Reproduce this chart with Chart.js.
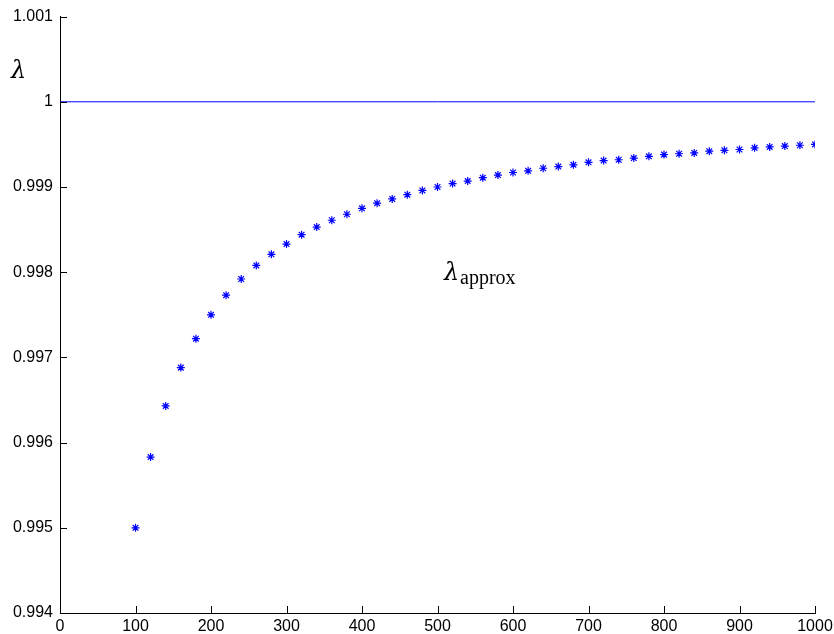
<!DOCTYPE html>
<html>
<head>
<meta charset="utf-8">
<script src="https://cdn.jsdelivr.net/npm/chart.js@4/dist/chart.umd.min.js"></script>
<style>
  body { margin: 0; background: #fff; }
  canvas { display: block; }
</style>
</head>
<body>
<canvas id="lambdaChart" width="834" height="634"></canvas>
<script>
// Valores
const sizes = [100, 120, 140, 160, 180, 200, 220, 240, 260, 280, 300, 320, 340, 360, 380, 400,
    420, 440, 460, 480, 500, 520, 540, 560, 580, 600, 620, 640, 660, 680, 700, 720, 740, 760,
    780, 800, 820, 840, 860, 880, 900, 920, 940, 960, 980, 1000];
const lambdaApprox = [0.99500, 0.99583, 0.99643, 0.99688, 0.99722, 0.99750, 0.99773, 0.99792,
    0.99808, 0.99821, 0.99833, 0.99844, 0.99853, 0.99861, 0.99868, 0.99875, 0.99881, 0.99886,
    0.99891, 0.99896, 0.99900, 0.99904, 0.99907, 0.99911, 0.99914, 0.99917, 0.99919, 0.99922,
    0.99924, 0.99926, 0.99929, 0.99931, 0.99932, 0.99934, 0.99936, 0.99938, 0.99939, 0.99940,
    0.99942, 0.99943, 0.99944, 0.99946, 0.99947, 0.99948, 0.99949, 0.99950];
const exactX = [0, 1000];
const exactY = [1, 1];

const xTicks = [0, 100, 200, 300, 400, 500, 600, 700, 800, 900, 1000];
const xTickLabels = ['0', '100', '200', '300', '400', '500', '600', '700', '800', '900', '1000'];
const yTicks = [0.994, 0.995, 0.996, 0.997, 0.998, 0.999, 1, 1.001];
const yTickLabels = ['0.994', '0.995', '0.996', '0.997', '0.998', '0.999', '1', '1.001'];

// Marcas de escala para dentro, estilo MATLAB, e os rótulos de texto
const matlabAxes = {
    id: 'matlabAxes',
    afterDraw(chart) {
        const { ctx, chartArea, scales } = chart;
        const len = 7;
        ctx.save();
        ctx.strokeStyle = '#000';
        ctx.lineWidth = 1;
        ctx.beginPath();
        xTicks.forEach(v => {
            const x = Math.round(scales.x.getPixelForValue(v)) + 0.5;
            ctx.moveTo(x, chartArea.bottom);
            ctx.lineTo(x, chartArea.bottom - len);
        });
        yTicks.forEach(v => {
            const y = Math.round(scales.y.getPixelForValue(v)) + 0.5;
            ctx.moveTo(chartArea.left, y);
            ctx.lineTo(chartArea.left + len, y);
        });
        ctx.stroke();

        ctx.fillStyle = '#000';
        ctx.textBaseline = 'alphabetic';
        ctx.textAlign = 'left';
        ctx.font = 'italic 24px "DejaVu Serif"';
        ctx.fillText('λ', 11, 78);

        ctx.fillText('λ', 444, 280);
        ctx.font = '20px "Liberation Serif"';
        ctx.fillText('approx', 460, 284);
        ctx.restore();
    }
};

const ctx = document.getElementById('lambdaChart').getContext('2d');

const lambdaChart = new Chart(ctx, {
    type: 'scatter',
    data: {
        datasets: [{
            label: 'λ',
            data: exactX.map((x, i) => ({ x, y: exactY[i] })),
            showLine: true,
            borderColor: '#0000ff',
            borderWidth: 1,
            pointRadius: 0,
        }, {
            label: 'λ approx',
            data: sizes.map((x, i) => ({ x, y: lambdaApprox[i] })),
            pointStyle: 'star',
            pointRadius: 4,
            borderColor: '#0000ff',
            backgroundColor: '#0000ff',
            borderWidth: 1.2,
        }]
    },
    options: {
        responsive: false,
        animation: false,
        layout: { padding: { top: 16, right: 19, left: 0, bottom: 0 } },
        plugins: {
            legend: { display: false },
            tooltip: { enabled: false },
        },
        scales: {
            x: {
                type: 'linear',
                min: 0,
                max: 1000,
                afterBuildTicks: axis => { axis.ticks = xTicks.map(value => ({ value })); },
                afterFit: axis => { axis.height = 21; axis.paddingRight = 0; },
                grid: { display: true, drawOnChartArea: false, drawTicks: false },
                border: { display: true, color: '#000', width: 1 },
                ticks: {
                    color: '#000',
                    padding: 4,
                    font: { family: '"Liberation Sans", Arial', size: 16 },
                    maxRotation: 0,
                    callback: (v, i) => xTickLabels[i],
                },
            },
            y: {
                type: 'linear',
                min: 0.994,
                max: 1.001,
                afterBuildTicks: axis => { axis.ticks = yTicks.map(value => ({ value })); },
                afterFit: axis => { axis.width = 60; },
                grid: { display: true, drawOnChartArea: false, drawTicks: false },
                border: { display: true, color: '#000', width: 1 },
                ticks: {
                    color: '#000',
                    padding: 7,
                    font: { family: '"Liberation Sans", Arial', size: 16 },
                    callback: (v, i) => yTickLabels[i],
                },
            }
        }
    },
    plugins: [matlabAxes]
});
</script>
</body>
</html>
